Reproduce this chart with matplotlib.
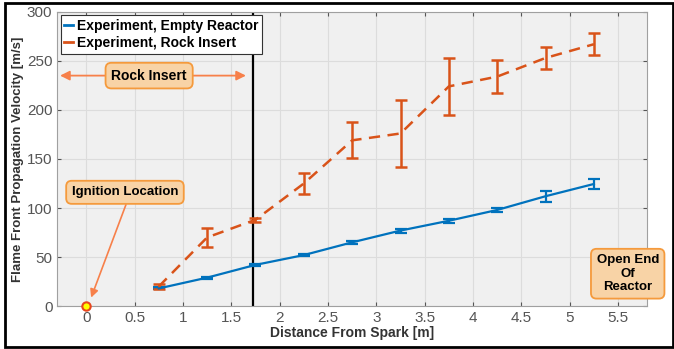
import matplotlib.pyplot as plt
from matplotlib.patches import Rectangle
from matplotlib.lines import Line2D

plt.rcParams['font.family'] = ['Liberation Sans', 'DejaVu Sans']

# Data
distance = [0.75, 1.25, 1.75, 2.25, 2.75, 3.25, 3.75, 4.25, 4.75, 5.25]
empty_vel = [18, 29, 42, 52, 65, 77, 87, 98, 112, 124.5]
empty_err = [1, 1, 1, 1, 1.5, 2, 2, 2, 5.5, 5.5]
rock_vel = [20, 70, 88, 125, 169, 176, 224, 234, 253, 267]
rock_err = [2.5, 10, 2, 11, 18.5, 34, 29, 16.5, 11, 11]
insert_end = 1.72

blue = '#0072BD'
orange = '#D95319'
box_face = '#F8D3A6'
box_edge = '#F59A3C'
arrow_col = '#F7804A'

fig = plt.figure(figsize=(6.74, 3.49), dpi=100)
ax = fig.add_axes([0.085, 0.123, 0.875, 0.843])
ax.set_facecolor('#F0F0F0')

ax.errorbar(distance, empty_vel, yerr=empty_err, color=blue, lw=1.6,
            capsize=4, capthick=1.6, elinewidth=1.6, zorder=3)
ax.errorbar(distance, rock_vel, yerr=rock_err, color=orange, lw=1.8,
            ls=(0, (4.5, 3)), capsize=4, capthick=1.8, elinewidth=1.8,
            zorder=3)

ax.axvline(insert_end, color='black', lw=1.6, zorder=2)
ax.plot([0], [0], 'o', ms=6, mfc='yellow', mec='#E8461E', mew=1.5,
        zorder=4, clip_on=False)

ax.set_xlim(-0.3, 5.8)
ax.set_ylim(0, 300)
ax.set_xticks([0, 0.5, 1, 1.5, 2, 2.5, 3, 3.5, 4, 4.5, 5, 5.5])
ax.set_xticklabels(['0', '0.5', '1', '1.5', '2', '2.5', '3', '3.5', '4',
                    '4.5', '5', '5.5'])
ax.set_yticks([0, 50, 100, 150, 200, 250, 300])
ax.grid(True, color='#DCDCDC', lw=0.8)
ax.set_axisbelow(True)
ax.tick_params(direction='in', colors='#555555', labelsize=11,
               top=True, right=True, length=3)
for s in ax.spines.values():
    s.set_color('#A0A0A0')

ax.set_xlabel('Distance From Spark [m]', fontweight='bold', fontsize=10,
              color='#333333', labelpad=1)
ax.set_ylabel('Flame Front Propagation Velocity [m/s]', fontweight='bold',
              fontsize=9.5, color='#333333', labelpad=2)

handles = [Line2D([], [], color=blue, lw=2),
           Line2D([], [], color=orange, lw=2)]
leg = ax.legend(handles, ['Experiment, Empty Reactor',
                          'Experiment, Rock Insert'],
                loc='upper left', prop={'weight': 'bold', 'size': 10},
                handlelength=0.6, handletextpad=0.3, borderpad=0.25,
                labelspacing=0.25, fancybox=False, framealpha=1,
                borderaxespad=0.25)
leg.get_frame().set_edgecolor('#333333')
leg.get_frame().set_linewidth(0.8)

box = dict(boxstyle='round,pad=0.42', fc=box_face, ec=box_edge, lw=1.3)

# Rock insert double arrow
ax.annotate('', xy=(-0.3, 235), xytext=(0.3, 235),
            arrowprops=dict(arrowstyle='-|>', color=arrow_col, lw=1.3,
                            mutation_scale=14))
ax.annotate('', xy=(1.68, 235), xytext=(1.0, 235),
            arrowprops=dict(arrowstyle='-|>', color=arrow_col, lw=1.3,
                            mutation_scale=14))
ax.text(0.65, 235, 'Rock Insert', ha='center', va='center', fontsize=10,
        fontweight='bold', bbox=box, zorder=5)

# Ignition location
ax.annotate('', xy=(0.04, 6), xytext=(0.42, 106),
            arrowprops=dict(arrowstyle='-|>', color=arrow_col, lw=1.2,
                            mutation_scale=12))
ax.text(0.4, 116, 'Ignition Location', ha='center', va='center',
        fontsize=9.5, fontweight='bold', bbox=box, zorder=5)

# Open end
ax.text(5.6, 33, 'Open End\nOf\nReactor', ha='center', va='center',
        fontsize=9.5, fontweight='bold', bbox=box, zorder=5,
        linespacing=1.15, clip_on=False)

# figure frame
fig.patches.append(Rectangle((0.008, 0.005), 0.99, 0.985,
                             transform=fig.transFigure, fill=False,
                             ec='black', lw=2))

fig.savefig('out.png', dpi=100)
